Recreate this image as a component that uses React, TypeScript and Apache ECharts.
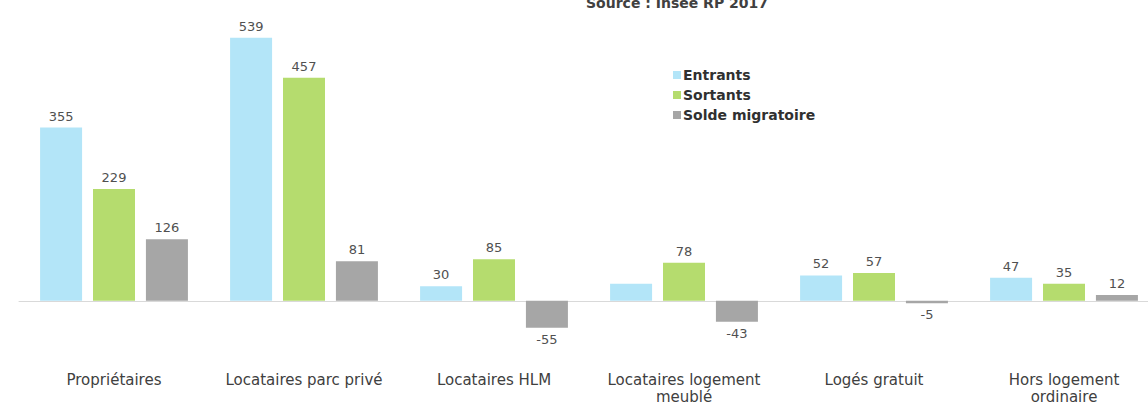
import React, { useEffect, useRef } from "react";
import * as echarts from "echarts";

const categories = [
  "Propriétaires",
  "Locataires parc privé",
  "Locataires HLM",
  "Locataires logement\nmeublé",
  "Logés gratuit",
  "Hors logement\nordinaire",
];
const entrants = [355, 539, 30, 35, 52, 47];
const sortants = [229, 457, 85, 78, 57, 35];
const solde = [126, 81, -55, -43, -5, 12];
const hiddenEntrantLabels = [3];

const titleText = "Source : Insee RP 2017";

export default function App() {
  const ref = useRef<HTMLDivElement>(null);
  useEffect(() => {
    if (!ref.current) return;
    const chart = echarts.init(ref.current, null, { renderer: "svg" });
    const font = "'DejaVu Sans', sans-serif";
    const mk = (vals: number[], hidden: number[] = []) =>
      vals.map((v, i) => {
        const item: any = { value: v };
        if (v < 0) item.label = { position: "bottom" };
        if (hidden.includes(i)) item.label = { show: false };
        return item;
      });
    const labelCfg = {
      show: true,
      position: "top",
      distance: 5,
      color: "#505050",
      fontSize: 13,
      fontFamily: font,
    };
    chart.setOption({
      animation: false,
      title: {
        text: titleText,
        left: 672,
        textAlign: "center",
        top: -9,
        textStyle: { fontSize: 14, fontWeight: "bold", color: "#404040", fontFamily: font },
      },
      legend: {
        orient: "vertical",
        left: 668,
        top: 63,
        itemWidth: 8,
        itemHeight: 8,
        itemGap: 6,
        icon: "rect",
        textStyle: { fontSize: 14, fontWeight: "bold", color: "#303030", fontFamily: font, padding: [0, 0, 0, -3] },
      },
      grid: { left: 19, width: 1140, top: 8, bottom: 59.4, outerBoundsMode: "none", containLabel: false },
      xAxis: {
        type: "category",
        data: categories,
        axisLine: { onZero: true, lineStyle: { color: "#d9d9d9" } },
        axisTick: { show: false },
        axisLabel: {
          margin: 22,
          color: "#404040",
          fontSize: 15,
          lineHeight: 17,
          fontFamily: font,
          interval: 0,
        },
      },
      yAxis: {
        type: "value",
        min: -100,
        max: 600,
        show: false,
        splitLine: { show: false },
      },
      series: [
        {
          name: "Entrants",
          type: "bar",
          data: mk(entrants, hiddenEntrantLabels),
          itemStyle: { color: "#b3e5f8" },
          barWidth: 42,
          barGap: "26%",
          label: labelCfg,
        },
        {
          name: "Sortants",
          type: "bar",
          data: mk(sortants),
          itemStyle: { color: "#b5dc6e" },
          barWidth: 42,
          barGap: "26%",
          label: labelCfg,
        },
        {
          name: "Solde migratoire",
          type: "bar",
          data: mk(solde),
          itemStyle: { color: "#a6a6a6" },
          barWidth: 42,
          barGap: "26%",
          label: labelCfg,
        },
      ],
    });
    return () => chart.dispose();
  }, []);
  return <div ref={ref} style={{ width: 1148, height: 409, position: "absolute", left: 0, top: 0 }} />;
}
